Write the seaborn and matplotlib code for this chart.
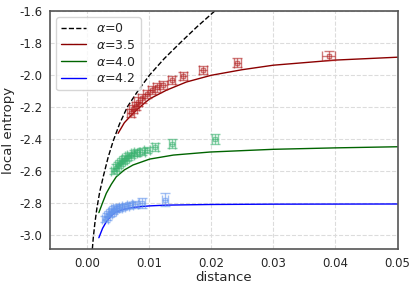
import matplotlib
matplotlib.use("Agg")
import matplotlib.pyplot as plt
import seaborn as sns
import pandas as pd
import numpy as np

# theory curves
d_a0 = [0.00085, 0.00100, 0.00125, 0.00160, 0.00205, 0.00265, 0.0034, 0.0042, 0.0052, 0.0065, 0.0082, 0.0101, 0.0124, 0.0150, 0.0177, 0.0206]
s_a0 = [-3.09, -3.02, -2.93, -2.83, -2.73, -2.63, -2.515, -2.415, -2.31, -2.20, -2.10, -2.00, -1.90, -1.80, -1.70, -1.60]

d_a35 = [0.0050, 0.0060, 0.0074, 0.0090, 0.0101, 0.0128, 0.0160, 0.0200, 0.0250, 0.0300, 0.0400, 0.0500]
s_a35 = [-2.366, -2.30, -2.241, -2.185, -2.150, -2.096, -2.045, -2.003, -1.968, -1.940, -1.908, -1.890]

d_a40 = [0.0019, 0.0025, 0.0031, 0.0039, 0.0047, 0.0060, 0.0074, 0.0101, 0.0139, 0.0198, 0.0300, 0.0400, 0.0500]
s_a40 = [-2.862, -2.80, -2.741, -2.685, -2.638, -2.595, -2.564, -2.527, -2.502, -2.483, -2.466, -2.457, -2.450]

d_a42 = [0.0019, 0.0025, 0.0031, 0.0039, 0.0047, 0.0060, 0.0074, 0.0100, 0.0128, 0.0200, 0.0300, 0.0500]
s_a42 = [-3.019, -2.96, -2.919, -2.881, -2.856, -2.840, -2.829, -2.820, -2.815, -2.811, -2.809, -2.808]

# measured points
red_d = [0.0070, 0.0074, 0.0078, 0.0082, 0.0088, 0.0096, 0.0104, 0.0112, 0.0122, 0.0136, 0.0155, 0.0187, 0.0242, 0.0389]
red_s = [-2.240, -2.215, -2.195, -2.169, -2.148, -2.121, -2.096, -2.079, -2.064, -2.033, -2.008, -1.971, -1.925, -1.880]
red_xerr = [0.0006] * 13 + [0.0010]
red_yerr = [0.027] * 14

green_d = [0.0044, 0.0047, 0.0050, 0.0053, 0.0056, 0.0059, 0.0062, 0.0066, 0.0070, 0.0075, 0.0081, 0.0088, 0.0096, 0.0109, 0.0137, 0.0206]
green_s = [-2.60, -2.58, -2.565, -2.55, -2.54, -2.53, -2.52, -2.51, -2.50, -2.49, -2.485, -2.48, -2.47, -2.45, -2.43, -2.40]
green_xerr = [0.0005] * 16
green_yerr = [0.02] * 13 + [0.025, 0.03, 0.03]

blue_d = [0.0029, 0.0032, 0.0035, 0.0038, 0.0041, 0.0044, 0.0047, 0.0051, 0.0056, 0.0062, 0.0069, 0.0077, 0.0088, 0.0126]
blue_s = [-2.90, -2.885, -2.87, -2.86, -2.85, -2.84, -2.835, -2.83, -2.825, -2.82, -2.815, -2.81, -2.80, -2.78]
blue_xerr = [0.0005] * 14
blue_yerr = [0.02] * 12 + [0.03, 0.038]

sns.set_style("whitegrid", {"grid.linestyle": "--", "grid.color": "#dcdcdc",
                            "axes.edgecolor": "#555555"})
plt.rcParams['font.family'] = ['DejaVu Sans']
plt.rcParams['axes.unicode_minus'] = False

fig, ax = plt.subplots(figsize=(4.15, 2.85), dpi=100)
fig.subplots_adjust(left=0.12, right=0.958, top=0.962, bottom=0.126)

curves = [(d_a0, s_a0, r'$\alpha$=0', 'black', '--'),
          (d_a35, s_a35, r'$\alpha$=3.5', 'darkred', '-'),
          (d_a40, s_a40, r'$\alpha$=4.0', 'darkgreen', '-'),
          (d_a42, s_a42, r'$\alpha$=4.2', 'blue', '-')]
for d, s, lab, col, ls in curves:
    sns.lineplot(x=d, y=s, ax=ax, color=col, linestyle=ls, linewidth=1.0, label=lab)

pts = [(red_d, red_s, red_xerr, red_yerr, 'firebrick'),
       (green_d, green_s, green_xerr, green_yerr, 'mediumseagreen'),
       (blue_d, blue_s, blue_xerr, blue_yerr, 'cornflowerblue')]
for d, s, xe, ye, col in pts:
    ax.errorbar(d, s, xerr=xe, yerr=ye, fmt='s', mfc='none', mec=col, ms=3.5,
                ecolor=col, color=col, capsize=3.3, elinewidth=1, alpha=0.6)

ax.set_xlim(-0.006, 0.05)
ax.set_ylim(-3.09, -1.6)
ax.set_xticks([0.0, 0.01, 0.02, 0.03, 0.04, 0.05])
ax.set_yticks([-3.0, -2.8, -2.6, -2.4, -2.2, -2.0, -1.8, -1.6])
ax.tick_params(labelsize=8.5, pad=2)
ax.set_xlabel('distance', fontsize=9.5, labelpad=1)
ax.set_ylabel('local entropy', fontsize=9.5, labelpad=3)
for sp in ax.spines.values():
    sp.set_linewidth(1.2)
ax.legend(loc='upper left', fontsize=9, frameon=True, labelspacing=0.3,
          borderpad=0.4, handlelength=2.0)

plt.savefig('out.png', dpi=100)
